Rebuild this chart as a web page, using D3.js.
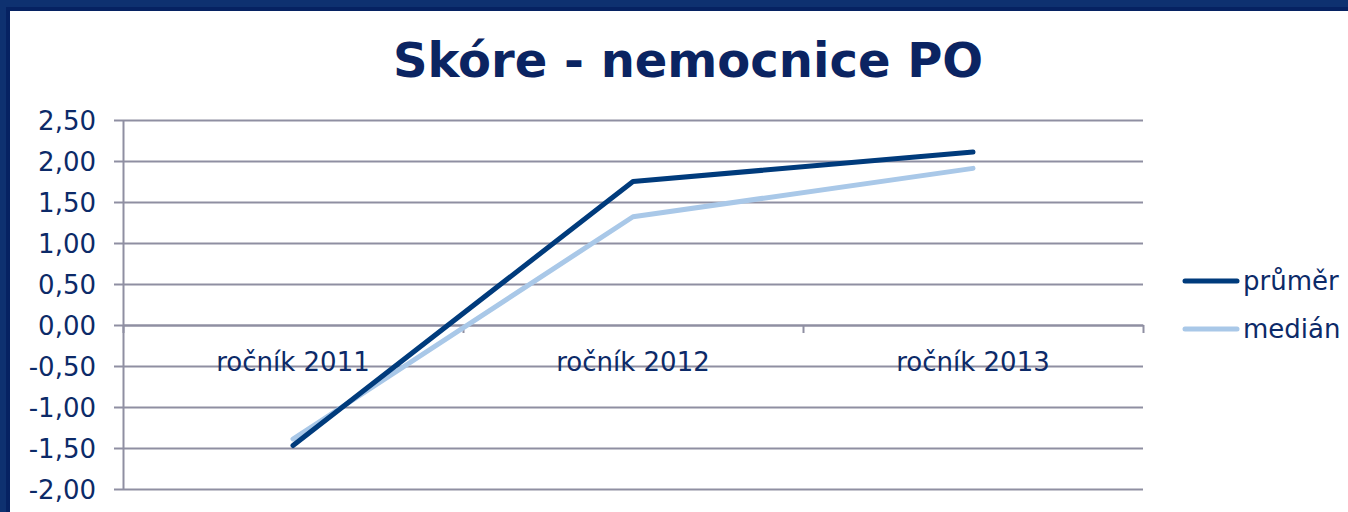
<!DOCTYPE html>
<html>
<head>
<meta charset="utf-8">
<script src="https://cdn.jsdelivr.net/npm/d3@7"></script>
<style>
  body { margin: 0; background: #fff; }
  svg { display: block; font-family: "DejaVu Sans", Verdana, sans-serif; }
</style>
</head>
<body>
<div id="chart"></div>
<script>
// data
var categories = ["ročník 2011", "ročník 2012", "ročník 2013"];
var prumer = [-1.47, 1.75, 2.11];
var median = [-1.39, 1.32, 1.91];
var seriesNames = ["průměr", "medián"];
var yTicks = [-2, -1.5, -1, -0.5, 0, 0.5, 1, 1.5, 2, 2.5];

var W = 1348, H = 512;
var plotLeft = 123, plotRight = 1143, plotTop = 120, plotBottom = 489;
var textColor = "#0c2a68";
var gridColor = "#8f8fa2";
var colors = ["#003b7c", "#a9c8e8"];

var svg = d3.select("#chart").append("svg")
  .attr("width", W)
  .attr("height", H);

// window frame (top and left only, rest is cropped)
svg.append("rect").attr("width", W).attr("height", H).attr("fill", "#0e3170");
svg.append("rect").attr("x", 6).attr("y", 7).attr("width", W).attr("height", H).attr("fill", "#062262");
svg.append("rect").attr("x", 10).attr("y", 11).attr("width", W).attr("height", H).attr("fill", "#fff");

svg.append("text")
  .attr("x", 688).attr("y", 77)
  .attr("text-anchor", "middle")
  .attr("font-size", 48)
  .attr("font-weight", "bold")
  .attr("fill", "#0b2462")
  .text("Skóre - nemocnice PO");

var y = d3.scaleLinear().domain([-2, 2.5]).range([plotBottom, plotTop]);
var x = d3.scaleBand().domain(categories).range([plotLeft, plotRight]);
var edge = d3.scaleLinear().domain([0, categories.length]).range([plotLeft, plotRight]);

// horizontal gridlines
var grid = svg.append("g")
  .attr("transform", "translate(" + plotLeft + ",0)")
  .call(d3.axisRight(y).tickValues(yTicks).tickSize(plotRight - plotLeft).tickFormat(""));
grid.select(".domain").remove();
grid.selectAll("line").attr("stroke", gridColor).attr("stroke-width", 2);

// y axis with outside ticks and labels (comma decimals, plain hyphen)
var fmt = function(d) { return d3.format(".2f")(d).replace(".", ",").replace("\u2212", "-"); };
var yAxis = svg.append("g")
  .attr("transform", "translate(" + plotLeft + ",0)")
  .call(d3.axisLeft(y).tickValues(yTicks).tickSize(9).tickSizeOuter(0).tickPadding(18).tickFormat(fmt));
yAxis.select(".domain").attr("stroke", gridColor).attr("stroke-width", 2);
yAxis.selectAll("line").attr("stroke", gridColor).attr("stroke-width", 2);
yAxis.selectAll("text")
  .attr("font-size", 26)
  .attr("font-family", "DejaVu Sans, Verdana, sans-serif")
  .attr("fill", textColor)
  .attr("dy", "0.36em");

// x axis at zero with ticks between categories
var xAxis = svg.append("g")
  .attr("transform", "translate(0," + y(0) + ")")
  .call(d3.axisBottom(edge).tickValues(d3.range(categories.length + 1)).tickSize(8).tickSizeOuter(0).tickFormat(""));
xAxis.select(".domain").attr("stroke", gridColor).attr("stroke-width", 2);
xAxis.selectAll("line").attr("stroke", gridColor).attr("stroke-width", 2);

svg.append("g").selectAll("text")
  .data(categories)
  .join("text")
  .attr("x", function(d) { return x(d) + x.bandwidth() / 2; })
  .attr("y", 371)
  .attr("text-anchor", "middle")
  .attr("font-size", 26)
  .attr("fill", textColor)
  .text(function(d) { return d; });

// lines
var line = d3.line()
  .x(function(d, i) { return x(categories[i]) + x.bandwidth() / 2; })
  .y(function(d) { return y(d); });

[median, prumer].forEach(function(s, k) {
  svg.append("path")
    .datum(s)
    .attr("fill", "none")
    .attr("stroke", k == 0 ? colors[1] : colors[0])
    .attr("stroke-width", 5)
    .attr("stroke-linecap", "round")
    .attr("stroke-linejoin", "round")
    .attr("d", line);
});

// legend
var legend = svg.append("g");
seriesNames.forEach(function(n, i) {
  var ly = 281 + i * 48;
  legend.append("line")
    .attr("x1", 1185).attr("x2", 1237)
    .attr("y1", ly).attr("y2", ly)
    .attr("stroke", colors[i])
    .attr("stroke-width", 5)
    .attr("stroke-linecap", "round");
  legend.append("text")
    .attr("x", 1243).attr("y", ly + 9)
    .attr("font-size", 26)
    .attr("fill", textColor)
    .text(n);
});
</script>
</body>
</html>
